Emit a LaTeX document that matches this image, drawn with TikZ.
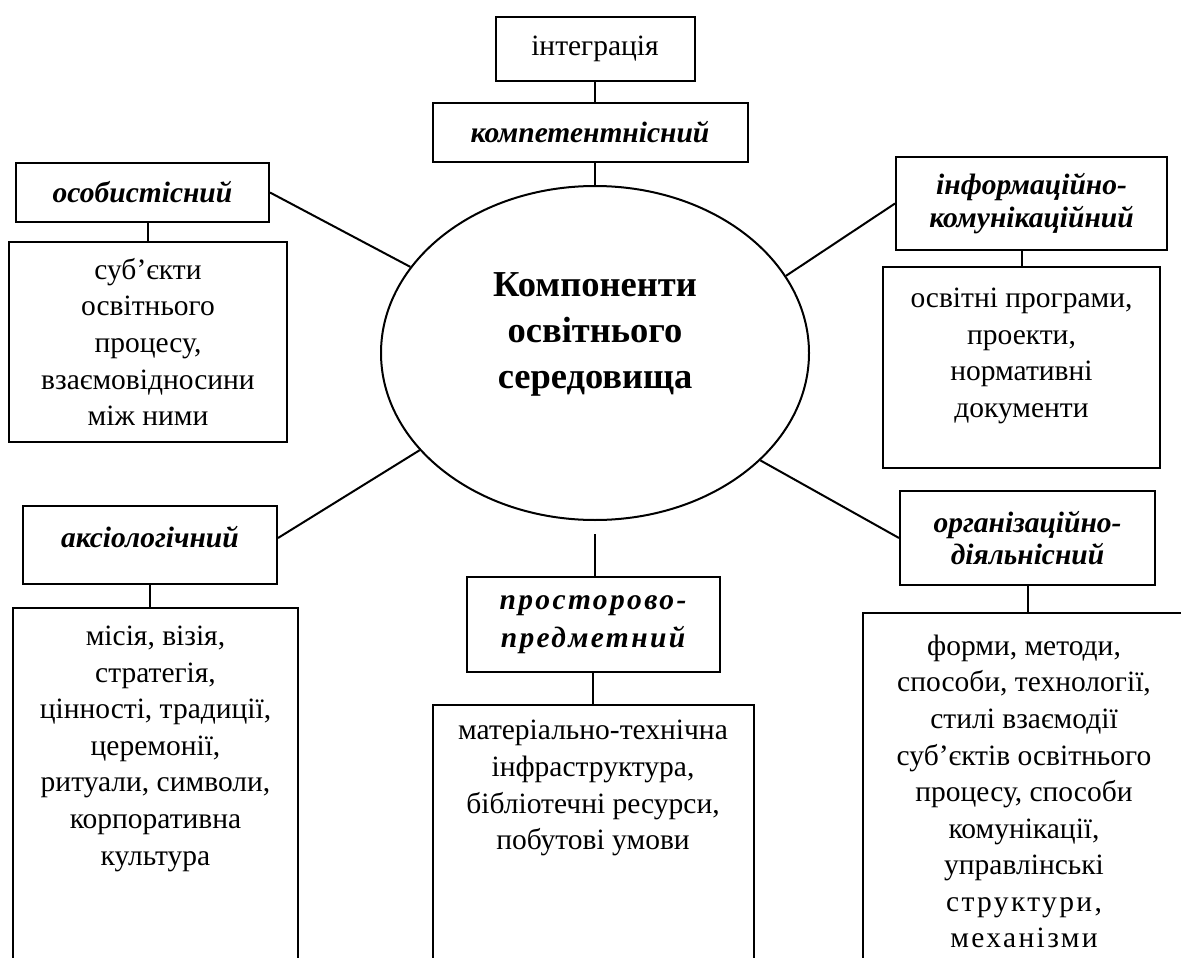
\documentclass[tikz,border=0pt]{standalone}
\usepackage{fontspec}
\setmainfont{Liberation Serif}
\usepackage{tikz}
\usetikzlibrary{shapes}

\begin{document}
\begin{tikzpicture}[
        x=1pt, y=-1pt,
        line width=2pt,
        every node/.style={draw, align=center, inner sep=0pt},
        plain/.style={font=\fontsize{29.5}{36.6}\selectfont},
        kind/.style={font=\fontsize{29.5}{32.5}\selectfont\bfseries\itshape},
        spaced/.style={font=\fontsize{29.5}{38}\selectfont\bfseries\itshape\addfontfeatures{LetterSpace=8}},
        core/.style={ellipse, font=\fontsize{36.5}{46}\selectfont\bfseries}
    ]
    \useasboundingbox (0,0) rectangle (1181,958);

    \node[core, minimum width=428pt, minimum height=334pt, text depth=45pt] (ell) at (595,353)
        {Компоненти\\освітнього\\середовища};

    \node[plain, minimum width=199pt, minimum height=64pt] (integr) at (595,49) {інтеграція};
    \node[kind, minimum width=315pt, minimum height=59pt] (komp) at (590,132.5) {компетентнісний};

    \node[kind, minimum width=253pt, minimum height=59pt] (osob) at (142.5,192.5) {особистісний};
    \node[plain, minimum width=278pt, minimum height=200pt] (subj) at (148,342)
        {суб’єкти\\освітнього\\процесу,\\взаємовідносини\\між ними};

    \node[kind, minimum width=271pt, minimum height=93pt] (info) at (1031.5,203.5)
        {інформаційно-\\комунікаційний};
    \node[plain, minimum width=277pt, minimum height=201pt, text depth=29.5pt] (osvit) at (1021.5,367.5)
        {освітні програми,\\проекти,\\нормативні\\документи};

    \node[kind, minimum width=254pt, minimum height=78pt, text depth=16pt] (aks) at (150,545) {аксіологічний};
    \node[plain, minimum width=285pt, minimum height=357pt, text depth=82pt] (misia) at (155.5,786.5)
        {місія, візія,\\стратегія,\\цінності, традиції,\\церемонії,\\ритуали, символи,\\корпоративна\\культура};

    \node[spaced, minimum width=253pt, minimum height=95pt] (prost) at (593,624.5)
        {просторово-\\предметний};
    \node[plain, minimum width=321pt, minimum height=260pt, text depth=100pt] (mater) at (593,835)
        {матеріально-технічна\\інфраструктура,\\бібліотечні ресурси,\\побутові умови};

    \node[kind, minimum width=255pt, minimum height=94pt] (org) at (1027.5,538)
        {організаційно-\\діяльнісний};
    \node[plain, minimum width=322pt, minimum height=357pt] (forms) at (1024,791.5)
        {форми, методи,\\способи, технології,\\стилі взаємодії\\суб’єктів освітнього\\процесу, способи\\комунікації,\\управлінські\\{\addfontfeatures{LetterSpace=8}структури,}\\{\addfontfeatures{LetterSpace=8}механізми}};

    \draw (ell.north |- integr.south) -- (ell.north |- komp.north);
    \draw (ell.north |- komp.south) -- (ell.north);
    \draw (osob.east) -- (ell.155.6);
    \draw (subj.north |- osob.south) -- (subj.north);
    \draw (ell.22) -- (info.west);
    \draw (osvit.north |- info.south) -- (osvit.north);
    \draw ([yshift=7pt]aks.east) -- (ell.209);
    \draw (aks.south) -- (aks.south |- misia.north);
    \draw ([yshift=-13pt]ell.south) -- (ell.south |- prost.north);
    \draw (prost.south) -- (mater.north);
    \draw (ell.327) -- (org.west);
    \draw (org.south) -- (org.south |- forms.north);
\end{tikzpicture}
\end{document}
